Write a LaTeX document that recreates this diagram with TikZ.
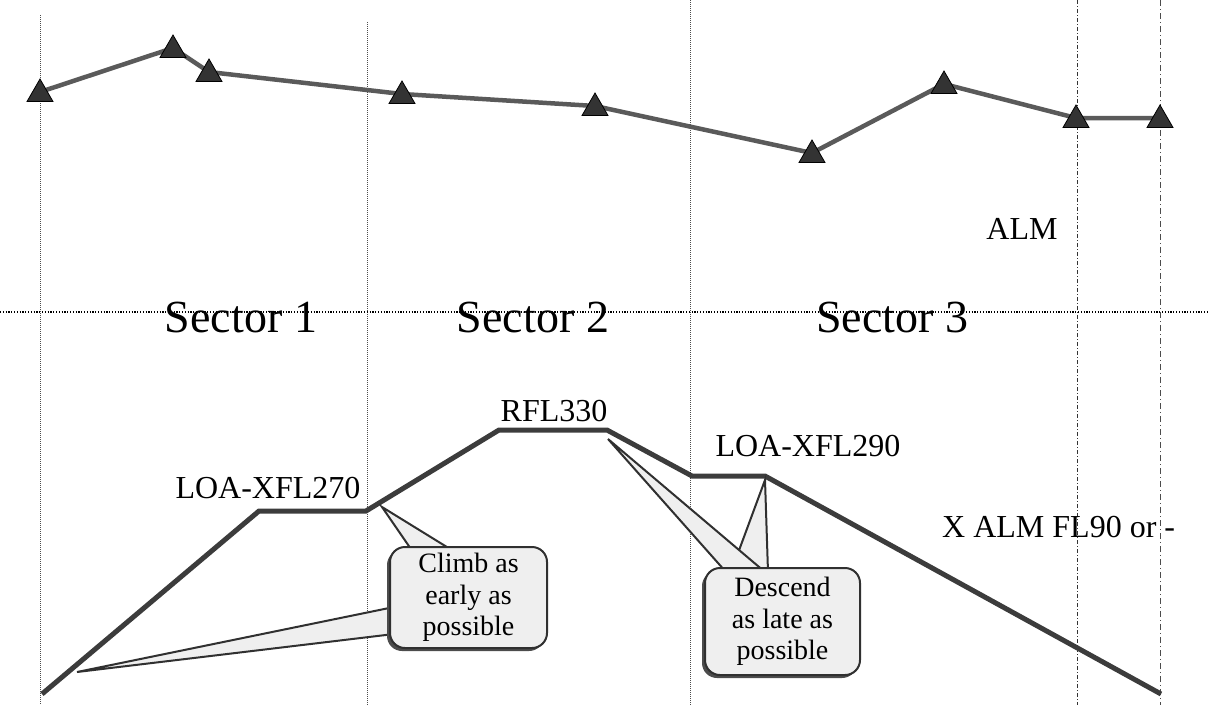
\documentclass[tikz,border=0pt]{standalone}
\usepackage{fontspec}
\setmainfont{Liberation Serif}
\usetikzlibrary{shapes.geometric,shadows}
\definecolor{trackgray}{HTML}{5A5A5A}
\definecolor{markfill}{HTML}{333333}
\definecolor{profilec}{HTML}{3C3C3C}
\definecolor{calloutfill}{HTML}{EFEFEF}
\definecolor{calloutline}{HTML}{303030}
\tikzset{
  wp/.style={regular polygon, regular polygon sides=3, minimum size=30pt, inner sep=0pt,
             fill=markfill, draw=black, line width=0.8pt},
  track/.style={draw=trackgray, line width=4.5pt, line join=round},
  profile/.style={draw=profilec, line width=5pt, line join=miter},
  sectorline/.style={draw=black!70, line width=1pt, densely dotted},
  sectorline2/.style={draw=black!80, line width=0.9pt, dash pattern=on 4pt off 2pt on 1pt off 2pt},
  sectorline3/.style={draw=black!70, line width=0.9pt, dash pattern=on 6pt off 3pt on 1pt off 3pt},
  boundary/.style={draw=black, line width=2.2pt, dash pattern=on 1.2pt off 1.6pt},
  sectorlabel/.style={font=\fontsize{46}{50}\selectfont, inner sep=0pt},
  fllabel/.style={font=\fontsize{32}{36}\selectfont, inner sep=0pt},
  pointer/.style={fill=calloutfill, draw=calloutline, line width=2pt, line join=miter},
  callout/.style={rectangle, rounded corners=15pt, fill=calloutfill, draw=calloutline, line width=2pt,
                  align=center, font=\fontsize{28}{31.5}\selectfont, inner sep=0pt,
                  drop shadow={shadow xshift=-3pt, shadow yshift=-3pt, opacity=1, fill=black!70}}
}
\begin{document}
\begin{tikzpicture}[x=1pt,y=-1pt]
\useasboundingbox (0,0) rectangle (1209,705);

% vertical sector boundaries
\coordinate (v1t) at (40,15);   \coordinate (v1b) at (40,705);
\coordinate (v2t) at (367,22);  \coordinate (v2b) at (367,705);
\coordinate (v3t) at (690,0);   \coordinate (v3b) at (690,705);
\coordinate (v4t) at (1077,0);  \coordinate (v4b) at (1077,705);
\coordinate (v5t) at (1160,0);  \coordinate (v5b) at (1160,705);
\draw[sectorline] (v1t) -- (v1b);
\draw[sectorline] (v2t) -- (v2b);
\draw[sectorline] (v3t) -- (v3b);
\draw[sectorline2] (v4t) -- (v4b);
\draw[sectorline3] (v5t) -- (v5b);

% horizontal boundary
\coordinate (hl) at (0,312); \coordinate (hr) at (1209,312);
\draw[boundary] (hl) -- (hr);

% top route
\coordinate (p1) at (40,92);
\coordinate (p2) at (173,48);
\coordinate (p3) at (209,72);
\coordinate (p4) at (402,94);
\coordinate (p5) at (595,106);
\coordinate (p6) at (812,153);
\coordinate (p7) at (944,84);
\coordinate (p8) at (1076,118);
\coordinate (p9) at (1160,118);
\draw[track] (p1) -- (p2) -- (p3) -- (p4) -- (p5) -- (p6) -- (p7) -- (p8) -- (p9);
\foreach \i in {1,...,9} { \node[wp] (w\i) at ([yshift=-2pt]p\i) {}; }

% labels
\node[fllabel] (alm) at (1022,229) {ALM};
\node[sectorlabel] (s1) at (241,317) {Sector 1};
\node[sectorlabel] (s2) at (533,317) {Sector 2};
\node[sectorlabel] (s3) at (892,317) {Sector 3};

% vertical profile
\coordinate (q0) at (42,694);
\coordinate (q1) at (259,511);
\coordinate (q2) at (366,511);
\coordinate (q3) at (499,430);
\coordinate (q4) at (607,430);
\coordinate (q5) at (692,476);
\coordinate (q6) at (765,476);
\coordinate (q7) at (1161,694);
\draw[profile] (q0) -- (q1) -- (q2) -- (q3) -- (q4) -- (q5) -- (q6) -- (q7);

\node[fllabel] (loa270) at (268,488) {LOA-XFL270};
\node[fllabel] (rfl) at (554,411) {RFL330};
\node[fllabel] (loa290) at (808,446) {LOA-XFL290};
\node[fllabel, anchor=west] (xalm) at (942,527) {X ALM FL90 or -};

% callout 1 pointers
\coordinate (c1tipA) at (77,672);
\coordinate (c1baseA1) at (394,607);
\coordinate (c1baseA2) at (394,634);
\coordinate (c1tipB) at (382,507);
\coordinate (c1baseB1) at (413,552);
\coordinate (c1baseB2) at (455,552);
\draw[pointer] (c1baseA1) -- (c1tipA) -- (c1baseA2);
\draw[pointer] (c1baseB1) -- (c1tipB) -- (c1baseB2);
\node[callout, minimum width=157pt, minimum height=101pt] (box1) at (468.5,597.5)
  {Climb as\\early as\\possible};

% callout 2 pointers
\coordinate (c2tipB) at (765,480);
\coordinate (c2baseB1) at (731,572);
\coordinate (c2baseB2) at (768,572);
\coordinate (c2tipA) at (608,439);
\coordinate (c2baseA1) at (726,572);
\coordinate (c2baseA2) at (765,572);
\draw[pointer] (c2baseB1) -- (c2tipB) -- (c2baseB2);
\draw[pointer] (c2baseA1) -- (c2tipA) -- (c2baseA2);
\node[callout, minimum width=155pt, minimum height=107pt] (box2) at (782.5,621.5)
  {Descend\\as late as\\possible};
\end{tikzpicture}
\end{document}
